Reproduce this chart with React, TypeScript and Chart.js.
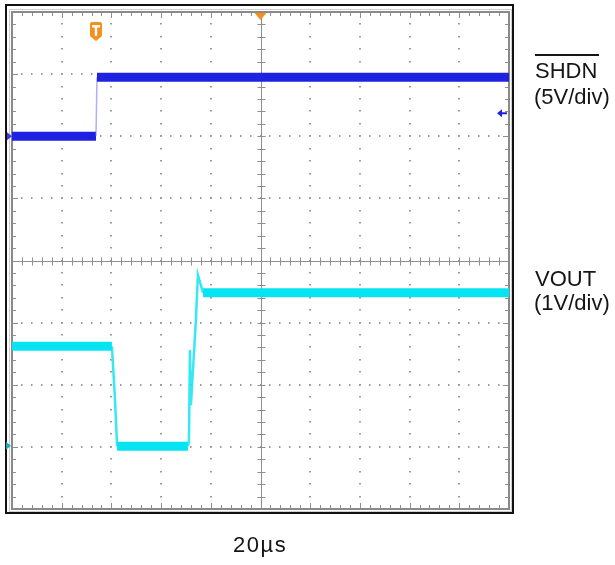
import React, { useEffect, useRef } from 'react';
import { Chart, registerables } from 'chart.js';

Chart.register(...registerables);

// ---- data (time in µs, level in screen divisions from bottom) ----
const timeDivs = 10;
const usPerDiv = 20;
const levelDivs = 8;

const shdnTime = [0, 33.8, 34.2, 200];
const shdnDiv = [6.0, 6.0, 6.95, 6.95];

const voutTime = [0, 40.2, 41.4, 42.3, 70.8, 71.2, 71.6, 72.0, 74.0, 74.8, 76.9, 200];
const voutDiv = [2.62, 2.62, 1.8, 1.01, 1.01, 1.08, 2.56, 1.67, 3.04, 3.77, 3.48, 3.48];

const triggerTime = 33.8;
const shdnRefDiv = 6.37;
const shdnGroundDiv = 6.0;
const voutGroundDiv = 1.02;

const shdnColor = '#1f22e0';
const voutColor = '#05e4f0';

const toPoints = (t: number[], v: number[]) => t.map((x, i) => ({ x, y: v[i] }));

const graticulePlugin = {
  id: 'graticule',
  beforeDatasetsDraw(chart: any) {
    const ctx = chart.ctx as CanvasRenderingContext2D;
    const xs = chart.scales.x;
    const ys = chart.scales.y;
    const a = chart.chartArea;
    ctx.save();
    // outer black frame
    ctx.strokeStyle = '#111';
    ctx.lineWidth = 2;
    ctx.strokeRect(6, 5, 507, 508);

    const px = (t: number) => xs.getPixelForValue(t);
    const py = (d: number) => ys.getPixelForValue(d);

    // dotted grid
    ctx.fillStyle = '#9a9a9a';
    for (let i = 1; i < timeDivs; i++) {
      if (i === timeDivs / 2) continue;
      const X = Math.round(px(i * usPerDiv));
      for (let k = 1; k < levelDivs * 5; k++) {
        const Y = Math.round(py(k * 0.2));
        ctx.fillRect(X - 1, Y - 1, 2, 1.5);
      }
    }
    for (let j = 1; j < levelDivs; j++) {
      if (j === levelDivs / 2) continue;
      const Y = Math.round(py(j));
      for (let k = 1; k < timeDivs * 5; k++) {
        const X = Math.round(px(k * usPerDiv / 5));
        ctx.fillRect(X - 1, Y - 1, 1.5, 2);
      }
    }

    // center lines with minor ticks
    ctx.strokeStyle = '#8e8e8e';
    ctx.lineWidth = 1;
    const cx = Math.round(px((timeDivs / 2) * usPerDiv)) + 0.5;
    const cy = Math.round(py(levelDivs / 2)) + 0.5;
    ctx.beginPath();
    ctx.moveTo(cx, a.top);
    ctx.lineTo(cx, a.bottom);
    ctx.moveTo(a.left, cy);
    ctx.lineTo(a.right, cy);
    for (let k = 1; k < timeDivs * 5; k++) {
      const X = Math.round(px(k * usPerDiv / 5)) + 0.5;
      ctx.moveTo(X, cy - 4);
      ctx.lineTo(X, cy + 4);
    }
    for (let k = 1; k < levelDivs * 5; k++) {
      const Y = Math.round(py(k * 0.2)) + 0.5;
      ctx.moveTo(cx - 4, Y);
      ctx.lineTo(cx + 4, Y);
    }
    // border ticks
    for (let k = 1; k < timeDivs * 5; k++) {
      const X = Math.round(px(k * usPerDiv / 5)) + 0.5;
      const len = k % 5 === 0 ? 6 : 4;
      ctx.moveTo(X, a.top);
      ctx.lineTo(X, a.top + len);
      ctx.moveTo(X, a.bottom);
      ctx.lineTo(X, a.bottom - len);
    }
    for (let k = 1; k < levelDivs * 5; k++) {
      const Y = Math.round(py(k * 0.2)) + 0.5;
      const len = k % 5 === 0 ? 6 : 4;
      ctx.moveTo(a.left, Y);
      ctx.lineTo(a.left + len, Y);
      ctx.moveTo(a.right, Y);
      ctx.lineTo(a.right - len, Y);
    }
    ctx.stroke();

    // graticule border
    ctx.strokeStyle = '#8a8a8a';
    ctx.lineWidth = 2;
    ctx.strokeRect(a.left, a.top, a.right - a.left, a.bottom - a.top);
    ctx.strokeStyle = '#cfcfcf';
    ctx.lineWidth = 1;
    ctx.strokeRect(a.left - 2.5, a.top - 2.5, a.right - a.left + 5, a.bottom - a.top + 5);
    ctx.restore();
  },
  afterDatasetsDraw(chart: any) {
    const ctx = chart.ctx as CanvasRenderingContext2D;
    const xs = chart.scales.x;
    const ys = chart.scales.y;
    const a = chart.chartArea;
    ctx.save();
    // top trigger-position triangle (center of record)
    const tc = xs.getPixelForValue((timeDivs / 2) * usPerDiv);
    ctx.fillStyle = '#f5901e';
    ctx.beginPath();
    ctx.moveTo(tc - 6, a.top + 1);
    ctx.lineTo(tc + 6, a.top + 1);
    ctx.lineTo(tc, a.top + 8);
    ctx.closePath();
    ctx.fill();

    // trigger "T" shield
    const tx = xs.getPixelForValue(triggerTime);
    const top = a.top + 10;
    ctx.beginPath();
    ctx.moveTo(tx - 6, top + 2);
    ctx.quadraticCurveTo(tx - 6, top, tx - 4, top);
    ctx.lineTo(tx + 4, top);
    ctx.quadraticCurveTo(tx + 6, top, tx + 6, top + 2);
    ctx.lineTo(tx + 6, top + 14);
    ctx.lineTo(tx, top + 19);
    ctx.lineTo(tx - 6, top + 14);
    ctx.closePath();
    ctx.fill();
    ctx.fillStyle = '#ffffff';
    ctx.fillRect(tx - 4, top + 3, 8, 2.5);
    ctx.fillRect(tx - 1.2, top + 3, 2.4, 11);

    // SHDN reference arrow on right edge
    const ry = ys.getPixelForValue(shdnRefDiv);
    ctx.fillStyle = shdnColor;
    ctx.beginPath();
    ctx.moveTo(a.right - 12, ry);
    ctx.lineTo(a.right - 7, ry - 4);
    ctx.lineTo(a.right - 7, ry + 4);
    ctx.closePath();
    ctx.fill();
    ctx.fillRect(a.right - 8, ry - 1, 6, 2);

    // ground markers on left edge
    const gy1 = ys.getPixelForValue(shdnGroundDiv);
    ctx.fillStyle = '#3a3ad0';
    ctx.beginPath();
    ctx.moveTo(a.left - 5, gy1 - 4);
    ctx.lineTo(a.left, gy1);
    ctx.lineTo(a.left - 5, gy1 + 4);
    ctx.closePath();
    ctx.fill();
    const gy2 = ys.getPixelForValue(voutGroundDiv);
    ctx.fillStyle = '#17aeb0';
    ctx.beginPath();
    ctx.moveTo(a.left - 6, gy2 - 4);
    ctx.lineTo(a.left - 1, gy2);
    ctx.lineTo(a.left - 6, gy2 + 4);
    ctx.closePath();
    ctx.fill();
    ctx.restore();
  },
};

const flat = (c: any) => Math.abs(c.p0.parsed.y - c.p1.parsed.y) < 1e-6;

export default function App() {
  const ref = useRef<HTMLCanvasElement | null>(null);

  useEffect(() => {
    if (!ref.current) return;
    const chart = new Chart(ref.current, {
      type: 'line',
      data: {
        datasets: [
          {
            label: 'SHDN',
            data: toPoints(shdnTime, shdnDiv),
            borderColor: shdnColor,
            pointRadius: 0,
            tension: 0,
            segment: {
              borderWidth: (c: any) => (flat(c) ? 9 : 1.5),
              borderColor: (c: any) => (flat(c) ? shdnColor : 'rgba(110,110,245,0.55)'),
            },
          },
          {
            label: 'VOUT',
            data: toPoints(voutTime, voutDiv),
            borderColor: voutColor,
            pointRadius: 0,
            tension: 0,
            segment: {
              borderWidth: (c: any) => (flat(c) ? 9 : 2.5),
              borderColor: (c: any) => (flat(c) ? voutColor : 'rgba(20,228,240,0.85)'),
            },
          },
        ],
      },
      options: {
        responsive: false,
        maintainAspectRatio: false,
        animation: false,
        layout: { padding: { left: 12, top: 12, right: 106, bottom: 56 } },
        plugins: { legend: { display: false }, tooltip: { enabled: false } },
        scales: {
          x: { type: 'linear', min: 0, max: timeDivs * usPerDiv, display: false },
          y: { type: 'linear', min: 0, max: levelDivs, display: false },
        },
      } as any,
      plugins: [graticulePlugin],
    } as any);
    return () => chart.destroy();
  }, []);

  const font = '"Liberation Sans", Arial, Helvetica, sans-serif';
  const label = (top: number, left: number, extra: any = {}) => ({
    position: 'absolute' as const,
    top,
    left,
    fontFamily: font,
    fontSize: 22,
    lineHeight: '22px',
    color: '#151515',
    whiteSpace: 'nowrap' as const,
    ...extra,
  });

  return (
    <div style={{ position: 'absolute', top: 0, left: 0, width: 615, height: 565, background: '#fff', overflow: 'hidden' }}>
      <canvas ref={ref} width={615} height={565} style={{ display: 'block' }} />
      <div style={{ position: 'absolute', top: 54, left: 535, width: 64, height: 1.5, background: '#151515' }} />
      <div style={label(60.4, 535)}>SHDN</div>
      <div style={label(86.4, 534)}>(5V/div)</div>
      <div style={label(268, 535)}>VOUT</div>
      <div style={label(292.4, 534)}>(1V/div)</div>
      <div style={label(534.4, 233, { letterSpacing: '1.5px' })}>20µs</div>
    </div>
  );
}
